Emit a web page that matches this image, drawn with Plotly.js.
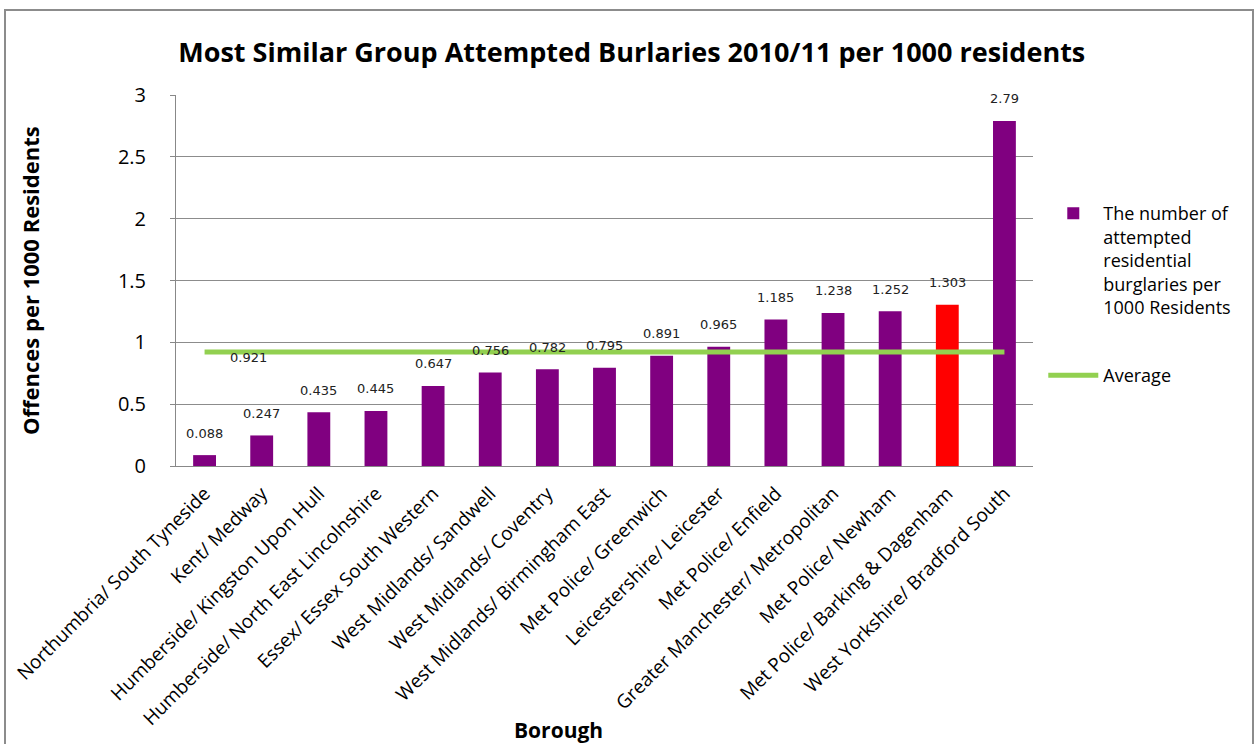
<!DOCTYPE html>
<html>
<head>
<meta charset="utf-8">
<script src="https://cdn.plot.ly/plotly-3.0.1.min.js"></script>
<style>
html,body{margin:0;padding:0;background:#fff;}
#wrap{position:relative;width:1256px;height:744px;overflow:hidden;}
#chart{position:absolute;left:0;top:0;width:1256px;height:744px;}
#frame{position:absolute;left:4px;top:9px;width:1246px;height:760px;border:2px solid #8c8c8c;pointer-events:none;}
</style>
</head>
<body>
<div id="wrap"><div id="chart"></div><div id="frame"></div></div>
<script>
const categories = [
  "Northumbria/ South Tyneside",
  "Kent/ Medway",
  "Humberside/ Kingston Upon Hull",
  "Humberside/ North East Lincolnshire",
  "Essex/ Essex South Western",
  "West Midlands/ Sandwell",
  "West Midlands/ Coventry",
  "West Midlands/ Birmingham East",
  "Met Police/ Greenwich",
  "Leicestershire/ Leicester",
  "Met Police/ Enfield",
  "Greater Manchester/ Metropolitan",
  "Met Police/ Newham",
  "Met Police/ Barking & Dagenham",
  "West Yorkshire/ Bradford South"
];
const rates = [0.088, 0.247, 0.435, 0.445, 0.647, 0.756, 0.782, 0.795, 0.891, 0.965, 1.185, 1.238, 1.252, 1.303, 2.79];
const rateLabels = ["0.088","0.247","0.435","0.445","0.647","0.756","0.782","0.795","0.891","0.965","1.185","1.238","1.252","1.303","2.79"];
const averageValue = 0.921;
const averageLabel = "0.921";
const highlight = "Met Police/ Barking & Dagenham";

const barColors = categories.map(c => c === highlight ? "#ff0000" : "#800080");
const avgSeries = categories.map(() => averageValue);

const traces = [
  {
    type: "bar",
    x: categories,
    y: rates,
    name: "The number of<br>attempted<br>residential<br>burglaries per<br>1000 Residents",
    marker: {color: barColors},
    legendgroup: "a",
    hoverinfo: "x+y"
  },
  {
    type: "scatter",
    mode: "lines",
    x: categories,
    y: avgSeries,
    name: "Average",
    line: {color: "#92d050", width: 5},
    legendgroup: "b"
  }
];

const FONT = "Open Sans, sans-serif";
const labelFont = {family: "DejaVu Sans", size: 13, color: "#222"};
const annotations = categories.map((c, i) => ({
  x: c, y: rates[i], xref: "x", yref: "y",
  text: rateLabels[i], showarrow: false,
  yanchor: "middle", yshift: 22, font: labelFont
}));
annotations.push({
  x: categories[1], y: averageValue, xref: "x", yref: "y",
  text: averageLabel, showarrow: false, yanchor: "middle", yshift: -5, xshift: -13, font: labelFont
});
annotations.push({
  text: "<b>Borough</b>", xref: "paper", yref: "paper",
  x: 0.446, y: -0.711, xanchor: "center", yanchor: "middle",
  showarrow: false, font: {family: FONT, size: 21, color: "#000"}
});
annotations.push({
  text: "<b>Offences per 1000 Residents</b>", xref: "paper", yref: "paper",
  x: -0.171, y: 0.5, xanchor: "center", yanchor: "middle", textangle: -90,
  showarrow: false, font: {family: FONT, size: 22, color: "#000"}
});

const layout = {
  width: 1256, height: 744,
  paper_bgcolor: "rgba(0,0,0,0)",
  plot_bgcolor: "#fff",
  margin: {l: 176, r: 223, t: 95, b: 278},
  bargap: 0.6,
  showlegend: true,
  title: {
    text: "<b>Most Similar Group Attempted Burlaries 2010/11 per 1000 residents</b>",
    font: {family: FONT, size: 27, color: "#000"},
    x: 0.503, xanchor: "center", y: 0.93, yanchor: "middle"
  },
  font: {family: FONT, color: "#000"},
  xaxis: {
    type: "category",
    tickangle: -45,
    tickfont: {family: FONT, size: 19, color: "#000"},
    ticklabelstandoff: 8,
    showgrid: false,
    showline: true, linecolor: "#888", linewidth: 1,
    ticks: "",
    automargin: false
  },
  yaxis: {
    range: [0, 3],
    dtick: 0.5,
    tickfont: {family: FONT, size: 20, color: "#000"},
    showgrid: true, gridcolor: "#8c8c8c", gridwidth: 1,
    showline: true, linecolor: "#888", linewidth: 1,
    ticks: "outside", ticklen: 5, tickcolor: "#888",
    ticklabelstandoff: 20,
    zeroline: false,
    automargin: false
  },
  legend: {
    x: 1.012, xanchor: "left", y: 0.73, yanchor: "top",
    font: {family: FONT, size: 18, color: "#000"},
    valign: "top",
    itemwidth: 50,
    tracegroupgap: 42,
    bgcolor: "rgba(0,0,0,0)"
  },
  annotations: annotations
};

Plotly.newPlot("chart", traces, layout, {displayModeBar: false, staticPlot: true});
</script>
</body>
</html>
